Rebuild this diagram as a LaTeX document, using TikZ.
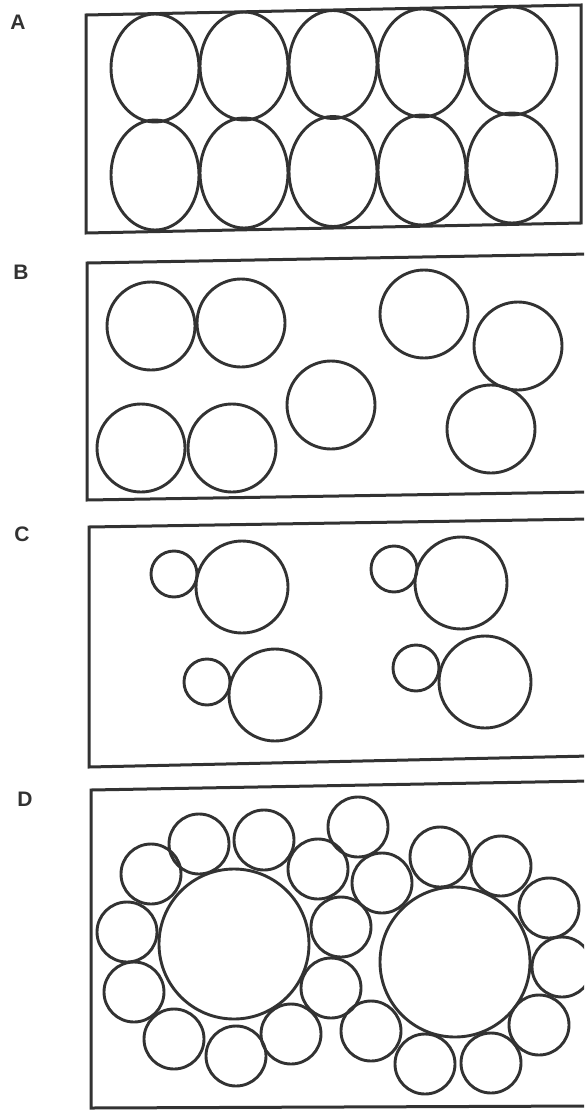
\documentclass[tikz,border=0pt]{standalone}
\usepackage{fontspec}
\setsansfont{Liberation Sans}
\usepackage{tikz}
\usetikzlibrary{positioning}
\definecolor{inkgray}{RGB}{50,50,50}

\tikzset{
  cell/.style={draw=inkgray, line width=2.9pt},
  panel/.style={draw=inkgray, line width=3pt},
  tag/.style={font=\sffamily\bfseries\fontsize{21}{24}\selectfont, text=inkgray, inner sep=0pt}
}

\begin{document}
\begin{tikzpicture}[x=1pt, y=-1pt]
    \useasboundingbox (0,0) rectangle (584,1110);
    \clip (0,0) rectangle (584,1110);

    % Pannello A: impacchettamento regolare
    \node[tag] (tagA) at (18,22) {A};
    \draw[panel] (86,15) -- (581,5) -- (581,223) -- (86,233) -- cycle;
    \draw[cell] (155,68) ellipse [x radius=44, y radius=54];
    \draw[cell] (244,66) ellipse [x radius=44, y radius=54];
    \draw[cell] (333,64.5) ellipse [x radius=44, y radius=54];
    \draw[cell] (422,63) ellipse [x radius=44, y radius=54];
    \draw[cell] (512,61) ellipse [x radius=45, y radius=54];
    \draw[cell] (155,175) ellipse [x radius=44, y radius=55];
    \draw[cell] (244,173) ellipse [x radius=44, y radius=55];
    \draw[cell] (333,171.5) ellipse [x radius=44, y radius=55];
    \draw[cell] (422,170) ellipse [x radius=44, y radius=55];
    \draw[cell] (512,168) ellipse [x radius=45, y radius=55];

    % Pannello B: sfere sparse, alcune a contatto
    \node[tag] (tagB) at (21,272) {B};
    \draw[panel] (87,263) -- (590,254) -- (590,492) -- (87,500) -- cycle;
    \draw[cell] (151,326) circle (44);
    \draw[cell] (241,323) circle (44);
    \draw[cell] (141,448) circle (44);
    \draw[cell] (232,448) circle (44);
    \draw[cell] (331,405) circle (44);
    \draw[cell] (424,314) circle (44);
    \draw[cell] (518,346) circle (44);
    \draw[cell] (491,429) circle (44);

    % Pannello C: coppie piccola + grande
    \node[tag] (tagC) at (22,534) {C};
    \draw[panel] (89,527) -- (590,519) -- (590,756) -- (89,767) -- cycle;
    \draw[cell] (174,574) circle (23);
    \draw[cell] (242,587) circle (46);
    \draw[cell] (394,569) circle (23);
    \draw[cell] (461,583) circle (46);
    \draw[cell] (207,682) circle (23);
    \draw[cell] (275,695) circle (46);
    \draw[cell] (416,668) circle (23);
    \draw[cell] (485,682) circle (46);

    % Pannello D: due sfere grandi circondate da sfere piccole
    \node[tag] (tagD) at (25,799) {D};
    \draw[panel] (91,790) -- (590,781) -- (590,1106) -- (91,1108) -- cycle;
    \draw[cell] (234,944) circle (75);
    \draw[cell] (455,962) circle (75);
    % corona attorno alla sfera sinistra
    \draw[cell] (151,874) circle (30);
    \draw[cell] (199,844) circle (30);
    \draw[cell] (264,840) circle (30);
    \draw[cell] (318,869) circle (30);
    \draw[cell] (358,827) circle (30);
    \draw[cell] (382,883) circle (30);
    \draw[cell] (341,927) circle (30);
    \draw[cell] (331,988) circle (30);
    \draw[cell] (291,1034) circle (30);
    \draw[cell] (236,1056) circle (30);
    \draw[cell] (174,1039) circle (30);
    \draw[cell] (134,992) circle (30);
    \draw[cell] (127,932) circle (30);
    % corona attorno alla sfera destra
    \draw[cell] (440,857) circle (30);
    \draw[cell] (501,866) circle (30);
    \draw[cell] (549,908) circle (30);
    \draw[cell] (562,967) circle (30);
    \draw[cell] (539,1025) circle (30);
    \draw[cell] (491,1063) circle (30);
    \draw[cell] (425,1064) circle (30);
    \draw[cell] (371,1031) circle (30);
\end{tikzpicture}
\end{document}
